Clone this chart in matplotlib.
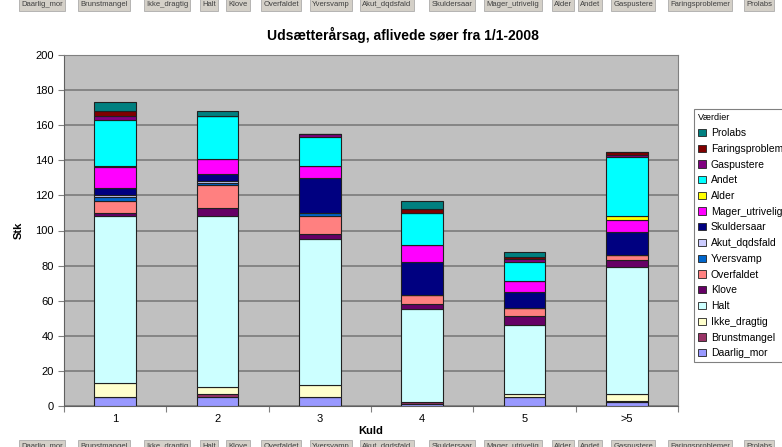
import matplotlib
matplotlib.use('Agg')
import matplotlib.pyplot as plt
from matplotlib.patches import Patch
import numpy as np

plt.rcParams['font.family'] = ['Liberation Sans', 'DejaVu Sans']

kuld = ['1', '2', '3', '4', '5', '>5']

# series in stacking order (bottom first)
Daarlig_mor = [5, 5, 5, 1, 5, 2]
Brunstmangel = [0, 2, 0, 1, 0, 1]
Ikke_dragtig = [8, 4, 7, 0, 2, 4]
Halt = [95, 97, 83, 53, 39, 72]
Klove = [2, 5, 3, 3, 5, 4]
Overfaldet = [7, 13, 10, 5, 5, 3]
Yversvamp = [2, 1, 2, 0, 0, 0]
Akut_dqdsfald = [1, 1, 0, 0, 0, 0]
Skuldersaar = [4, 4, 20, 19, 9, 13]
Mager_utrivelig = [12, 9, 7, 10, 6, 7]
Alder = [1, 0, 0, 0, 0, 2]
Andet = [26, 24, 16, 18, 11, 34]
Gaspustere = [2, 0, 2, 0, 2, 1]
Faringsproblemer = [3, 0, 0, 2, 1, 2]
Prolabs = [5, 3, 0, 5, 3, 0]

names = ['Daarlig_mor', 'Brunstmangel', 'Ikke_dragtig', 'Halt', 'Klove',
         'Overfaldet', 'Yversvamp', 'Akut_dqdsfald', 'Skuldersaar',
         'Mager_utrivelig', 'Alder', 'Andet', 'Gaspustere',
         'Faringsproblemer', 'Prolabs']
series = [Daarlig_mor, Brunstmangel, Ikke_dragtig, Halt, Klove, Overfaldet,
          Yversvamp, Akut_dqdsfald, Skuldersaar, Mager_utrivelig, Alder,
          Andet, Gaspustere, Faringsproblemer, Prolabs]
colors = ['#9999FF', '#993366', '#FFFFCC', '#CCFFFF', '#660066', '#FF8080',
          '#0066CC', '#CCCCFF', '#000080', '#FF00FF', '#FFFF00', '#00FFFF',
          '#800080', '#800000', '#008080']

fig = plt.figure(figsize=(7.82, 4.47), dpi=100)
ax = fig.add_axes([64/782, 1-406/447, 614/782, 351/447])
ax.set_facecolor('#C0C0C0')

x = np.arange(1, len(kuld)+1)
bottom = np.zeros(len(kuld))
for name, vals, col in zip(names, series, colors):
    ax.bar(x, vals, 0.41, bottom=bottom, color=col, edgecolor='#202020',
           linewidth=0.8, label=name, zorder=3)
    bottom += np.array(vals)

ax.set_xlim(0.5, 6.5)
ax.set_ylim(0, 200)
ax.set_yticks(range(0, 201, 20))
ax.yaxis.grid(True, color='#808080', linewidth=1.3, zorder=0)
ax.set_xticks(np.arange(0.5, 6.6, 1))
ax.set_xticklabels([])
ax.set_xticks(x, minor=True)
ax.set_xticklabels(kuld, minor=True)
ax.tick_params(axis='x', which='minor', length=0, pad=6, labelsize=8)
ax.tick_params(axis='x', which='major', length=4, color='#808080')
ax.tick_params(axis='y', length=4, color='#808080', labelsize=8)
for s in ['top', 'right']:
    ax.spines[s].set_color('#808080')
ax.spines['left'].set_color('#606060')
ax.spines['bottom'].set_color('#606060')

ax.set_ylabel('Stk', fontsize=8, fontweight='bold', labelpad=8)
ax.set_xlabel('Kuld', fontsize=8, fontweight='bold', labelpad=1)

fig.text(403/782, 1-35/447, 'Udsætterårsag, aflivede søer fra 1/1-2008',
         ha='center', va='center', fontsize=10, fontweight='bold')

handles = [Patch(facecolor=c, edgecolor='#202020', linewidth=0.6)
           for c in colors][::-1]
leg = fig.legend(handles, names[::-1], title='Værdier', loc='upper left',
                 bbox_to_anchor=(689/782, 1-104/447), fontsize=7.5,
                 title_fontsize=6.5, alignment='left', fancybox=False,
                 framealpha=1, edgecolor='#808080', handlelength=0.7,
                 handleheight=0.7, handletextpad=0.5, labelspacing=0.55,
                 borderpad=0.4)
leg.get_frame().set_linewidth(0.8)

# pivot field buttons, cut at top and bottom edges
btn_x = [42, 104, 167, 209, 238, 281, 331, 387, 452, 513, 563, 590, 633,
         700, 759]
for bx, nm in zip(btn_x, names):
    fig.text(bx/782, 1-5/447, nm, ha='center', va='center', fontsize=5.5,
             color='#404040',
             bbox=dict(boxstyle='square,pad=0.3', facecolor='#D4D0C8',
                       edgecolor='#A0A0A0', linewidth=0.5))
    fig.text(bx/782, 1-446/447, nm, ha='center', va='center', fontsize=5.5,
             color='#404040',
             bbox=dict(boxstyle='square,pad=0.3', facecolor='#D4D0C8',
                       edgecolor='#A0A0A0', linewidth=0.5))

fig.savefig('out.png', dpi=100)
